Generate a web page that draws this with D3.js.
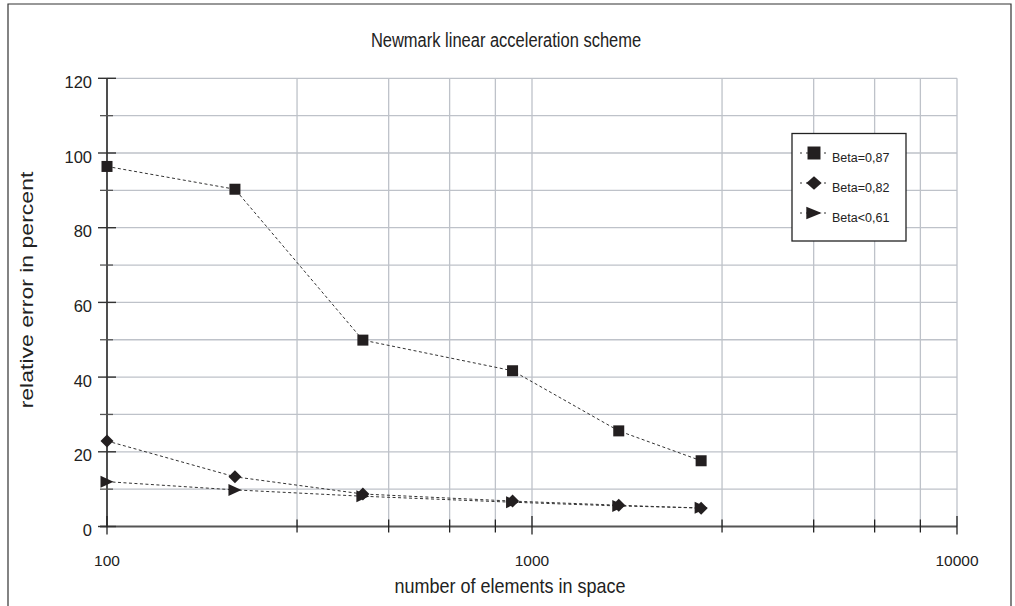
<!DOCTYPE html>
<html><head><meta charset="utf-8">
<script src="https://cdn.jsdelivr.net/npm/d3@7"></script>
<style>
html,body{margin:0;padding:0;background:#fff;}
svg{display:block;font-family:"Liberation Sans",Arial,Helvetica,sans-serif;}
</style></head>
<body>
<svg id="chart" width="1015" height="606"></svg>
<script>
// ---- data ----
const elements = [100, 200, 400, 900, 1600, 2500];
const beta087 = [96.4, 90.3, 49.9, 41.7, 25.6, 17.6];
const beta082 = [22.9, 13.3, 8.7, 6.8, 5.7, 4.9];
const beta061 = [12.0, 9.8, 8.1, 6.5, 5.5, 5.0];
const seriesNames = ["Beta=0,87", "Beta=0,82", "Beta<0,61"];
const yTickValues = [0, 20, 40, 60, 80, 100, 120];
const yMinorValues = [10, 30, 50, 70, 90, 110];
const xMajorValues = [100, 1000, 10000];
const xMinorValues = [280, 460, 640, 820, 2800, 4600, 6400, 8200];

const svg = d3.select("#chart");
const m = {left: 107, right: 957, top: 78.3, bottom: 526.5};

const x = d3.scaleLog().domain([100, 10000]).range([m.left, m.right]);
const y = d3.scaleLinear().domain([0, 120]).range([m.bottom, m.top]);

// outer frame
svg.append("path")
  .attr("d", `M8,606 V4 H1011 V606`)
  .attr("fill", "none").attr("stroke", "#333").attr("stroke-width", 1.2);

// gridlines
const gridColor = "#bec2c9";
const grid = svg.append("g");
yTickValues.concat(yMinorValues).filter(v => v > 0).forEach(v => {
  grid.append("line").attr("x1", m.left).attr("x2", m.right)
    .attr("y1", y(v)).attr("y2", y(v))
    .attr("stroke", gridColor).attr("stroke-width", 1.3);
});
xMinorValues.concat([1000, 10000]).forEach(v => {
  grid.append("line").attr("x1", x(v)).attr("x2", x(v))
    .attr("y1", m.top).attr("y2", m.bottom)
    .attr("stroke", gridColor).attr("stroke-width", 1.3);
});

// axes
const axisG = svg.append("g");
axisG.append("line").attr("x1", m.left).attr("x2", m.left)
  .attr("y1", m.top).attr("y2", m.bottom).attr("stroke", "#222").attr("stroke-width", 1.6);
axisG.append("line").attr("x1", 100).attr("x2", m.right)
  .attr("y1", m.bottom).attr("y2", m.bottom).attr("stroke", "#555").attr("stroke-width", 2.2);

yTickValues.forEach(v => {
  axisG.append("line").attr("x1", 98).attr("x2", 116)
    .attr("y1", y(v)).attr("y2", y(v)).attr("stroke", "#333").attr("stroke-width", 1.4);
  axisG.append("text").attr("x", 92).attr("y", y(v) + 9.5)
    .attr("text-anchor", "end").attr("font-size", 16.5).attr("fill", "#222").text(v);
});
yMinorValues.forEach(v => {
  axisG.append("line").attr("x1", 100).attr("x2", 113)
    .attr("y1", y(v)).attr("y2", y(v)).attr("stroke", "#555").attr("stroke-width", 1.3);
});
xMajorValues.forEach(v => {
  axisG.append("line").attr("x1", x(v)).attr("x2", x(v))
    .attr("y1", 516).attr("y2", 534.5).attr("stroke", "#222").attr("stroke-width", 1.3);
  axisG.append("text").attr("x", x(v)).attr("y", 566)
    .attr("text-anchor", "middle").attr("font-size", 15.5).attr("fill", "#222").text(v);
});
xMinorValues.forEach(v => {
  axisG.append("line").attr("x1", x(v)).attr("x2", x(v))
    .attr("y1", 519.5).attr("y2", 532.5).attr("stroke", "#222").attr("stroke-width", 1.3);
});

// titles
svg.append("text").attr("transform", "translate(506,47) scale(1,1.25)").attr("text-anchor", "middle")
  .attr("font-size", 16.5).attr("fill", "#222").text("Newmark linear acceleration scheme");
svg.append("text").attr("transform", "translate(510,593) scale(1,1.15)").attr("text-anchor", "middle")
  .attr("font-size", 18).attr("fill", "#222").text("number of elements in space");
svg.append("text").attr("transform", "translate(33,290) rotate(-90) scale(1.28,1)").attr("text-anchor", "middle")
  .attr("font-size", 18).attr("fill", "#222").text("relative error in percent");

// markers
const markerColor = "#231f20";
function drawMarker(g, type, cx, cy, k) {
  if (type === 0) {
    const s = 5.5 * k;
    g.append("rect").attr("x", cx - s).attr("y", cy - s).attr("width", 2 * s).attr("height", 2 * s)
      .attr("fill", markerColor);
  } else if (type === 1) {
    const w = 6.5 * k, h = 6.5 * (k > 1 ? 1.05 : 1);
    g.append("path").attr("d", `M${cx},${cy-h} L${cx+w},${cy} L${cx},${cy+h} L${cx-w},${cy} Z`)
      .attr("fill", markerColor);
  } else {
    const w = 6.5 * k, h = 6 * (k > 1 ? 1.05 : 1);
    g.append("path").attr("d", `M${cx-w},${cy-h} L${cx+w},${cy} L${cx-w},${cy+h} Z`)
      .attr("fill", markerColor);
  }
}

const allSeries = [beta087, beta082, beta061];
const line = d3.line().x(d => x(d[0])).y(d => y(d[1]));
const plot = svg.append("g");
allSeries.forEach((vals) => {
  const pts = elements.map((e, j) => [e, vals[j]]);
  plot.append("path").attr("d", line(pts)).attr("fill", "none")
    .attr("stroke", "#333").attr("stroke-width", 1).attr("stroke-dasharray", "3,2.5");
});
allSeries.forEach((vals, i) => {
  elements.forEach((e, j) => drawMarker(plot, i, x(e), y(vals[j]), 1));
});

// legend
const lg = svg.append("g");
lg.append("rect").attr("x", 792).attr("y", 133.5).attr("width", 114).attr("height", 107.5)
  .attr("fill", "#fff").attr("stroke", "#222").attr("stroke-width", 1.3);
seriesNames.forEach((name, i) => {
  const cy = 153 + i * 30;
  lg.append("line").attr("x1", 800).attr("x2", 828).attr("y1", cy).attr("y2", cy)
    .attr("stroke", "#333").attr("stroke-width", 1).attr("stroke-dasharray", "2,4");
  drawMarker(lg, i, 814, cy, 1.18);
  lg.append("text").attr("x", 832).attr("y", cy + 9).attr("font-size", 12.5)
    .attr("fill", "#222").text(name);
});
</script>
</body></html>
